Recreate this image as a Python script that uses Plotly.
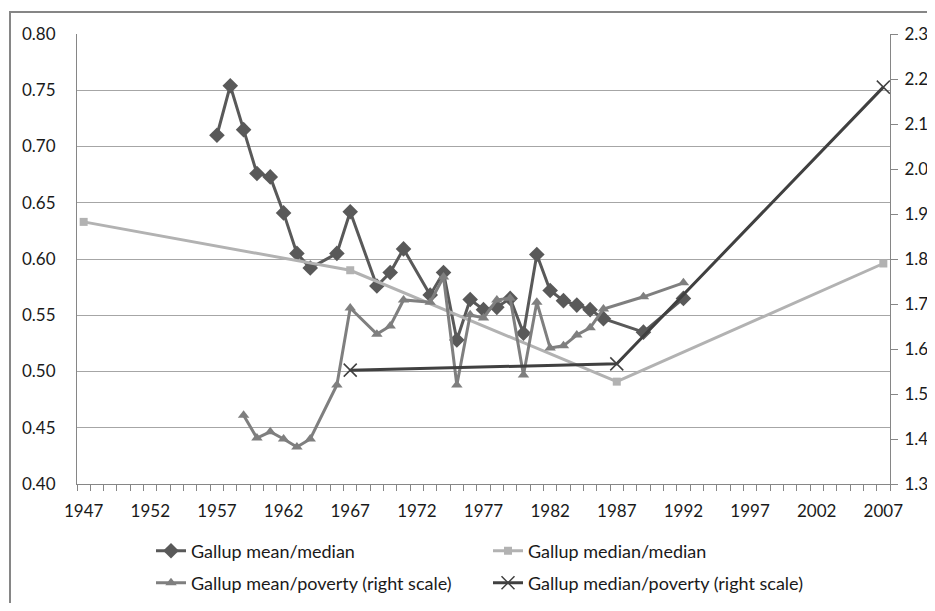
import plotly.graph_objects as go

# ---- data ----
mm_years = [1957, 1958, 1959, 1960, 1961, 1962, 1963, 1964, 1966, 1967, 1969, 1970, 1971,
            1973, 1974, 1975, 1976, 1977, 1978, 1979, 1980, 1981, 1982, 1983, 1984, 1985,
            1986, 1989, 1992]
mean_median = [0.710, 0.754, 0.715, 0.676, 0.673, 0.641, 0.605, 0.592, 0.605, 0.642, 0.576,
               0.588, 0.609, 0.568, 0.588, 0.528, 0.564, 0.555, 0.557, 0.565, 0.534, 0.604,
               0.572, 0.563, 0.559, 0.555, 0.547, 0.535, 0.565]

med_years = [1947, 1967, 1987, 2007]
median_median = [0.633, 0.590, 0.491, 0.596]

mp_years = [1959, 1960, 1961, 1962, 1963, 1964, 1966, 1967, 1969, 1970, 1971, 1973, 1974,
            1975, 1976, 1977, 1978, 1979, 1980, 1981, 1982, 1983, 1984, 1985, 1986, 1989, 1992]
mean_poverty = [1.453, 1.402, 1.416, 1.400, 1.382, 1.400, 1.520, 1.691, 1.633, 1.651, 1.709,
                1.704, 1.760, 1.520, 1.676, 1.669, 1.709, 1.713, 1.542, 1.704, 1.602, 1.607,
                1.631, 1.647, 1.689, 1.716, 1.747]

medp_years = [1967, 1987, 2007]
median_poverty = [1.553, 1.567, 2.182]

x_ticks = list(range(1947, 2008, 5))
left_ticks = [0.40, 0.45, 0.50, 0.55, 0.60, 0.65, 0.70, 0.75, 0.80]
right_ticks = [1.3, 1.4, 1.5, 1.6, 1.7, 1.8, 1.9, 2.0, 2.1, 2.2, 2.3]

names = ["Gallup mean/median", "Gallup median/median",
         "Gallup mean/poverty (right scale)", "Gallup median/poverty (right scale)"]

C1 = "#595959"
C2 = "#b2b2b2"
C3 = "#7f7f7f"
C4 = "#404040"
AX = "#868686"
GRID = "#a6a6a6"
FONT = "Lato"
TXT = "#1a1a1a"

fig = go.Figure()
fig.add_trace(go.Scatter(x=mm_years, y=mean_median, name=names[0], mode="lines+markers",
                         line=dict(color=C1, width=3),
                         marker=dict(symbol="diamond", size=12, color=C1),
                         legend="legend"))
fig.add_trace(go.Scatter(x=med_years, y=median_median, name=names[1], mode="lines+markers",
                         line=dict(color=C2, width=3),
                         marker=dict(symbol="square", size=8, color=C2),
                         legend="legend2"))
fig.add_trace(go.Scatter(x=mp_years, y=mean_poverty, name=names[2], mode="lines+markers",
                         line=dict(color=C3, width=3),
                         marker=dict(symbol="triangle-up", size=10, color=C3),
                         yaxis="y2", legend="legend3"))
fig.add_trace(go.Scatter(x=medp_years, y=median_poverty, name=names[3], mode="lines+markers",
                         line=dict(color=C4, width=3),
                         marker=dict(symbol="x-thin", size=13, color=C4,
                                     line=dict(color=C4, width=1.5)),
                         yaxis="y2", legend="legend4"))

# page body has an 8px margin: work in reference-pixel coordinates and offset
OFF = 8
W, H = 935 - OFF, 611 - 2 * OFF
L, R, T, B = 77 - OFF, 45, 34 - OFF, 127 - OFF
pw, ph = W - L - R, H - T - B


def px_x(x):
    return (x - OFF - L) / pw


def px_y(y):
    return (H - B - (y - OFF)) / ph


leg_common = dict(font=dict(family=FONT, size=18, color=TXT), bgcolor="rgba(0,0,0,0)",
                  yanchor="middle", xanchor="left", orientation="h")

fig.update_layout(
    width=W, height=H,
    margin=dict(l=L, r=R, t=T, b=B, autoexpand=False),
    paper_bgcolor="white", plot_bgcolor="white",
    font=dict(family=FONT, size=17, color=TXT),
    showlegend=True,
    legend=dict(x=px_x(151), y=px_y(551), **leg_common),
    legend2=dict(x=px_x(488), y=px_y(551), **leg_common),
    legend3=dict(x=px_x(151), y=px_y(583), **leg_common),
    legend4=dict(x=px_x(488), y=px_y(583), **leg_common),
    xaxis=dict(range=[1946.5, 2007.5], tickmode="array", tickvals=x_ticks,
               ticktext=[str(v) for v in x_ticks], ticks="", showgrid=False,
               showline=True, linecolor=AX, linewidth=1, zeroline=False,
               ticklabelstandoff=12, automargin=False,
               minor=dict(tickmode="linear", tick0=1946.5, dtick=1, ticks="outside",
                          ticklen=6, tickcolor=AX, tickwidth=1, showgrid=False),
               tickfont=dict(family=FONT, size=17, color=TXT)),
    yaxis=dict(range=[0.40, 0.80], tickmode="array", tickvals=left_ticks,
               ticktext=[f"{v:.2f}" for v in left_ticks], ticks="",
               showgrid=True, gridcolor=GRID, gridwidth=1,
               showline=True, linecolor=AX, linewidth=1, zeroline=False,
               ticklabelstandoff=17, automargin=False,
               tickfont=dict(family=FONT, size=17, color=TXT)),
    yaxis2=dict(range=[1.3, 2.3], overlaying="y", side="right", tickmode="array",
                tickvals=right_ticks, ticktext=[f"{v:.1f}" for v in right_ticks],
                ticks="outside", ticklen=7, tickcolor=AX, showgrid=False,
                showline=True, linecolor=AX, linewidth=1, zeroline=False,
                ticklabelstandoff=3, automargin=False,
                tickfont=dict(family=FONT, size=17, color=TXT)),
    shapes=[dict(type="rect", xref="paper", yref="paper",
                 x0=px_x(10), x1=px_x(960), y0=px_y(640), y1=px_y(12),
                 line=dict(color=AX, width=2), fillcolor="rgba(0,0,0,0)", layer="below")],
)

fig.write_html("out.html")
